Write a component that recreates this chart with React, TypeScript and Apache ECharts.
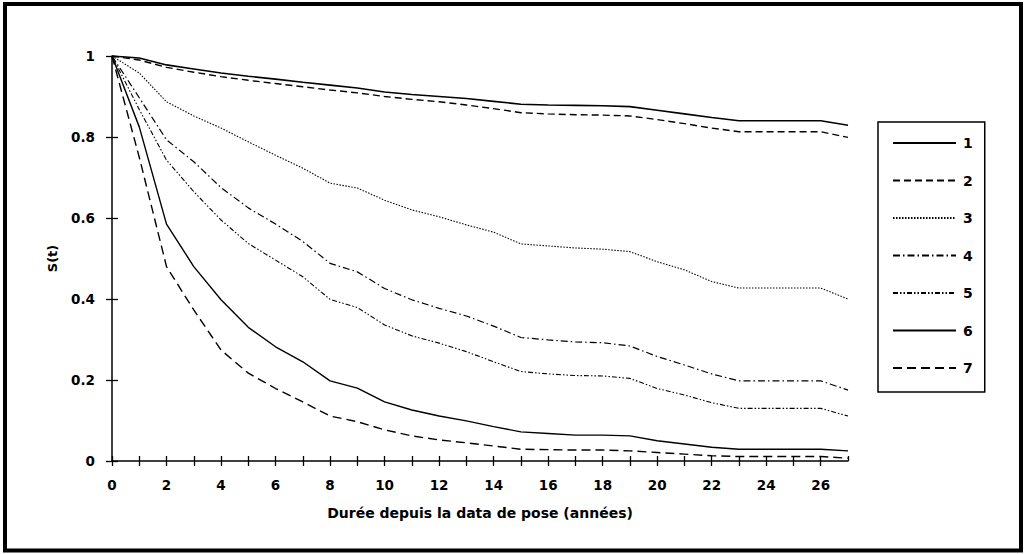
import React, { useEffect, useRef } from "react";
import * as echarts from "echarts";

const years = [0, 1, 2, 3, 4, 5, 6, 7, 8, 9, 10, 11, 12, 13, 14, 15, 16, 17, 18, 19, 20, 21, 22, 23, 24, 25, 26, 27];
const seriesNames = ["1", "2", "3", "4", "5", "6", "7"];
const s1 = [1, 0.995, 0.978, 0.968, 0.958, 0.95, 0.943, 0.935, 0.928, 0.921, 0.911, 0.905, 0.9, 0.895, 0.888, 0.881, 0.879, 0.878, 0.877, 0.875, 0.866, 0.857, 0.848, 0.84, 0.84, 0.84, 0.84, 0.829];
const s2 = [1, 0.99, 0.972, 0.96, 0.949, 0.94, 0.932, 0.924, 0.916, 0.909, 0.9, 0.893, 0.887, 0.879, 0.87, 0.86, 0.857, 0.855, 0.854, 0.852, 0.843, 0.833, 0.822, 0.813, 0.813, 0.813, 0.813, 0.799];
const s3 = [1, 0.958, 0.887, 0.852, 0.822, 0.788, 0.755, 0.723, 0.686, 0.674, 0.644, 0.62, 0.603, 0.583, 0.565, 0.536, 0.531, 0.526, 0.523, 0.517, 0.492, 0.472, 0.443, 0.427, 0.427, 0.427, 0.427, 0.4];
const s4 = [1, 0.897, 0.793, 0.739, 0.675, 0.625, 0.585, 0.542, 0.488, 0.467, 0.426, 0.398, 0.377, 0.358, 0.333, 0.305, 0.299, 0.294, 0.292, 0.284, 0.258, 0.237, 0.215, 0.198, 0.198, 0.198, 0.198, 0.175];
const s5 = [1, 0.868, 0.743, 0.665, 0.595, 0.537, 0.496, 0.455, 0.399, 0.379, 0.336, 0.309, 0.291, 0.27, 0.245, 0.221, 0.215, 0.211, 0.21, 0.204, 0.179, 0.163, 0.144, 0.13, 0.13, 0.13, 0.13, 0.111];
const s6 = [1, 0.825, 0.585, 0.48, 0.398, 0.33, 0.282, 0.245, 0.198, 0.18, 0.146, 0.126, 0.111, 0.099, 0.085, 0.072, 0.068, 0.064, 0.064, 0.062, 0.05, 0.042, 0.034, 0.029, 0.029, 0.029, 0.029, 0.025];
const s7 = [1, 0.75, 0.48, 0.373, 0.274, 0.217, 0.179, 0.146, 0.111, 0.097, 0.077, 0.062, 0.052, 0.045, 0.037, 0.029, 0.028, 0.027, 0.027, 0.025, 0.021, 0.017, 0.013, 0.011, 0.011, 0.011, 0.011, 0.007];
const allValues = [s1, s2, s3, s4, s5, s6, s7];
const yTickLabels: Record<string, string> = { "0": "0", "0.2": "0.2", "0.4": "0.4", "0.6": "0.6", "0.8": "0.8", "1": "1" };
const xTitle = "Durée depuis la data de pose (années)";
const yTitle = "S(t)";

const lineStyles: any[] = [
  { type: "solid", width: 1.6 },
  { type: [7, 4], width: 1.4 },
  { type: [1.5, 1.5], width: 1.1 },
  { type: [7, 3, 1.5, 3], width: 1.2 },
  { type: [5, 2, 1.5, 2, 1.5, 2], width: 1.1 },
  { type: "solid", width: 1.4 },
  { type: [9, 5], width: 1.4 },
];

const FONT = "'DejaVu Sans', Verdana, sans-serif";

export default function App() {
  const ref = useRef<HTMLDivElement>(null);
  useEffect(() => {
    if (!ref.current) return;
    const chart = echarts.init(ref.current, null, { renderer: "svg" });
    const axisLine = { show: true, lineStyle: { color: "#000", width: 1.5 } };
    const labelStyle = { color: "#000", fontFamily: FONT, fontWeight: "bold" as const, fontSize: 13.5 };
    chart.setOption({
      animation: false,
      backgroundColor: "#fff",
      grid: { left: 112, right: 178, top: 56, bottom: 93, containLabel: false },
      xAxis: [
        {
          type: "value",
          min: 0,
          max: 27,
          interval: 1,
          position: "bottom",
          axisLine,
          axisTick: { show: true, inside: false, length: 5, lineStyle: { color: "#000", width: 1.3 } },
          axisLabel: {
            ...labelStyle,
            margin: 17,
            showMaxLabel: false,
            formatter: (v: number) => (v % 2 === 0 ? String(v) : ""),
          },
          splitLine: { show: false },
          name: xTitle,
          nameLocation: "middle",
          nameGap: 45,
          nameTextStyle: { color: "#000", fontFamily: FONT, fontWeight: "bold", fontSize: 14 },
        },
        {
          type: "value",
          min: 0,
          max: 27,
          interval: 1,
          position: "bottom",
          offset: 0,
          axisLine: { show: false },
          axisTick: { show: true, inside: true, length: 5, lineStyle: { color: "#000", width: 1.3 } },
          axisLabel: { show: false },
          splitLine: { show: false },
        },
      ],
      yAxis: [
        {
          type: "value",
          min: 0,
          max: 1,
          interval: 0.2,
          position: "left",
          axisLine,
          axisTick: { show: true, inside: false, length: 6, lineStyle: { color: "#000", width: 1.3 } },
          axisLabel: {
            ...labelStyle,
            margin: 17,
            formatter: (v: number) => yTickLabels[String(Math.round(v * 10) / 10)] ?? "",
          },
          splitLine: { show: false },
          name: yTitle,
          nameLocation: "middle",
          nameGap: 53,
          nameTextStyle: { color: "#000", fontFamily: FONT, fontWeight: "bold", fontSize: 13 },
        },
        {
          type: "value",
          min: 0,
          max: 1,
          interval: 0.2,
          position: "left",
          offset: 0,
          axisLine: { show: false },
          axisTick: { show: true, inside: true, length: 6, lineStyle: { color: "#000", width: 1.3 } },
          axisLabel: { show: false },
          splitLine: { show: false },
        },
      ],
      legend: {
        orient: "vertical",
        left: 878,
        top: 122,
        padding: [14, 12, 17, 14],
        itemWidth: 63,
        itemHeight: 14,
        itemGap: 23.5,
        borderColor: "#000",
        borderWidth: 1.5,
        backgroundColor: "#fff",
        itemStyle: { opacity: 0, borderWidth: 0 },
        textStyle: { color: "#000", fontFamily: FONT, fontWeight: "bold", fontSize: 14, padding: [0, 0, 0, 2] },
        data: seriesNames,
      },
      graphic: [
        {
          type: "rect",
          shape: { x: 5, y: 4, width: 1016, height: 546.5 },
          style: { fill: "none", stroke: "#000", lineWidth: 4 },
          silent: true,
        },
      ],
      series: seriesNames.map((name, i) => ({
        name,
        type: "line",
        xAxisIndex: 0,
        yAxisIndex: 0,
        symbol: "none",
        showSymbol: false,
        color: "#000",
        lineStyle: { color: "#000", ...lineStyles[i] },
        data: years.map((t, j) => [t, allValues[i][j]]),
      })),
    });
    return () => chart.dispose();
  }, []);
  return <div ref={ref} style={{ position: "fixed", left: 0, top: 0, width: 1026, height: 554, background: "#fff" }} />;
}
